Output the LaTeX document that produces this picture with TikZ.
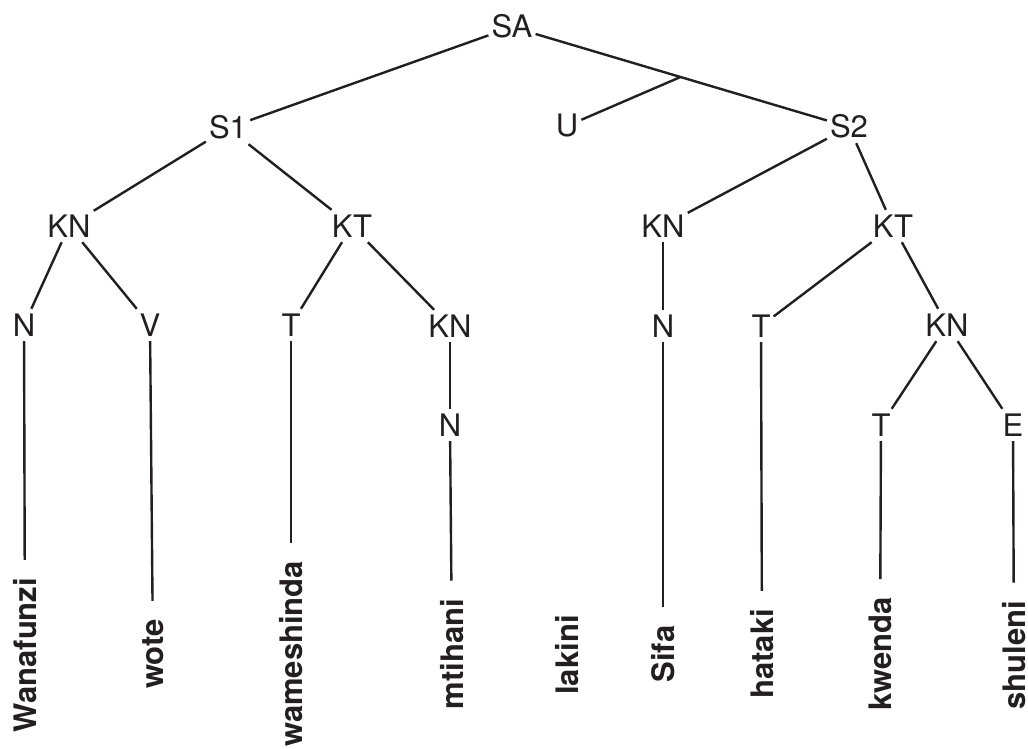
\documentclass[tikz,border=0pt]{standalone}
\usepackage{fontspec}
\setmainfont{TeX Gyre Heros}
\usetikzlibrary{calc}
\definecolor{ink}{HTML}{231F20}
\begin{document}
\begin{tikzpicture}[x=1pt,y=-1pt,
  lbl/.style={font=\fontsize{31}{37}\selectfont, text=ink, inner xsep=3pt, inner ysep=5pt, text height=22pt, text depth=0pt},
  word/.style={font=\fontsize{31}{37}\selectfont\bfseries, text=ink, rotate=90, inner sep=0pt},
  edge/.style={draw=ink, line width=2.4pt},
  leaf/.style={edge, shorten >=18pt}]
\useasboundingbox (0,0) rectangle (1028,749);
% labels
\node[lbl] (SA) at (512,27) {SA};
\node[lbl] (S1) at (228,128) {S1};
\node[lbl] (U) at (567,126) {U};
\node[lbl] (S2) at (849,127) {S2};
\node[lbl] (KN1) at (69,226) {KN};
\node[lbl] (KT1) at (352,226) {KT};
\node[lbl] (KN2) at (663,226) {KN};
\node[lbl] (KT2) at (893,226) {KT};
\node[lbl] (N1) at (24,325) {N};
\node[lbl] (V) at (150,325) {V};
\node[lbl] (T1) at (291,325) {T};
\node[lbl] (KN3) at (450,326) {KN};
\node[lbl] (N2) at (663,326) {N};
\node[lbl] (T2) at (761,326) {T};
\node[lbl] (KN4) at (947,325) {KN};
\node[lbl] (N3) at (450,425) {N};
\node[lbl] (T3) at (881,425) {T};
\node[lbl] (E) at (1013,425) {E};
% words
\node[word] (w1) at (25,655) {Wanafunzi};
\node[word] (w2) at (153,654) {wote};
\node[word] (w3) at (291,654) {wameshinda};
\node[word] (w4) at (452,654) {mtihani};
\node[word] (w5) at (567,655) {lakini};
\node[word] (w6) at (663,654) {Sifa};
\node[word] (w7) at (762,654) {hataki};
\node[word] (w8) at (880,654) {kwenda};
\node[word] (w9) at (1014,655) {shuleni};
% junction
\coordinate (J) at ($(SA.center)!0.5!(S2.center)$);
% edges
\draw[edge] (SA) -- (S1);
\draw[edge] (SA) -- (S2);
\draw[edge] (U) -- (J);
\draw[edge] (S1) -- (KN1);
\draw[edge] (S1) -- (KT1);
\draw[edge] (KN1) -- (N1);
\draw[edge] (KN1) -- (V);
\draw[edge] (KT1) -- (T1);
\draw[edge] (KT1) -- (KN3);
\draw[edge] (KN3) -- (N3);
\draw[edge] (S2) -- (KN2);
\draw[edge] (S2) -- (KT2);
\draw[edge] (KN2) -- (N2);
\draw[edge] (KT2) -- (T2);
\draw[edge] (KT2) -- (KN4);
\draw[edge] (KN4) -- (T3);
\draw[edge] (KN4) -- (E);
\draw[leaf] (N1) -- (w1);
\draw[leaf] (V) -- (w2);
\draw[leaf] (T1) -- (w3);
\draw[leaf] (N3) -- (w4);
\draw[leaf] (N2) -- (w6);
\draw[leaf] (T2) -- (w7);
\draw[leaf] (T3) -- (w8);
\draw[leaf] (E) -- (w9);
\end{tikzpicture}
\end{document}
